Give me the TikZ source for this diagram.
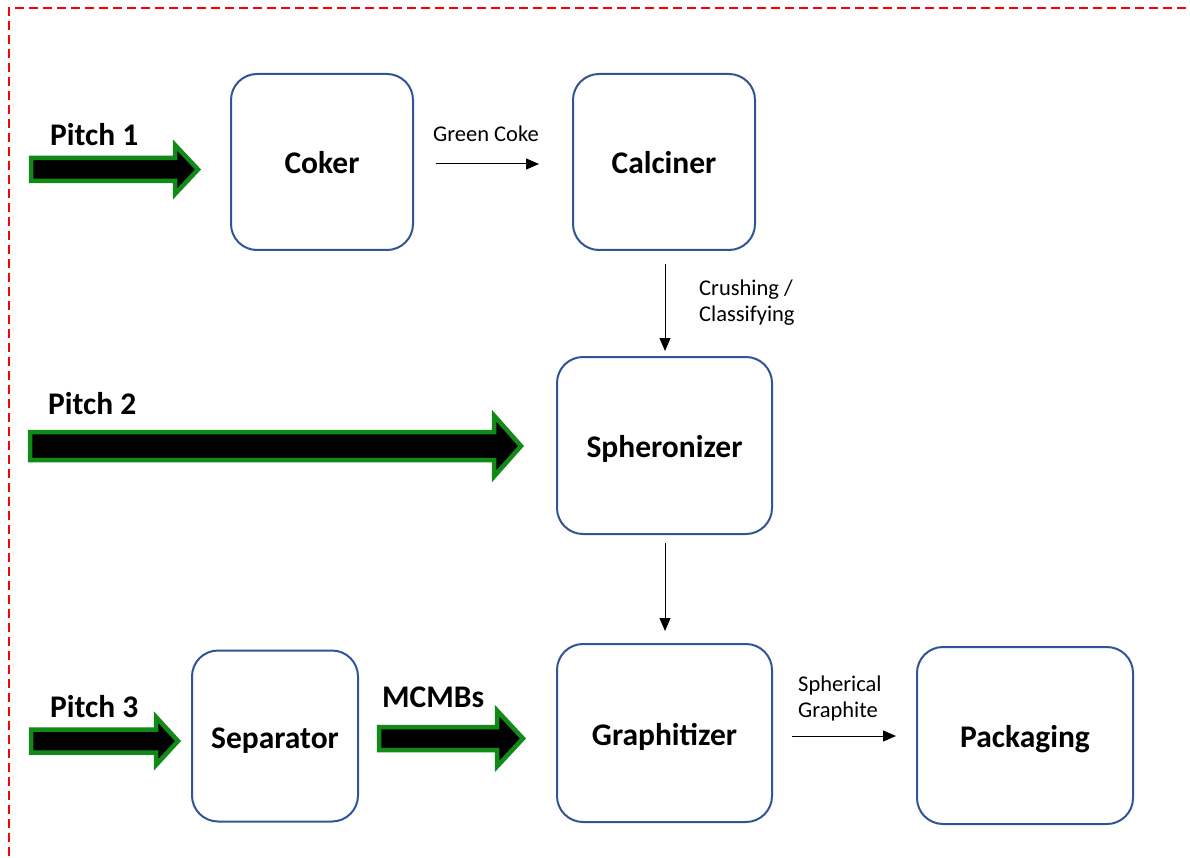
\documentclass[tikz,border=0pt]{standalone}
\usepackage{fontspec}
\setmainfont{Carlito}
\usetikzlibrary{arrows.meta}
\definecolor{boxblue}{RGB}{47,85,151}
\definecolor{fatgreen}{RGB}{18,138,24}
\tikzset{
  procbox/.style={draw=boxblue, line width=2pt, rounded corners=26pt, fill=white,
    inner sep=0pt, text height=24pt, text depth=0pt,
    font=\fontsize{31.5}{38}\selectfont\bfseries},
  fatarrow/.style={draw=fatgreen, fill=black, line width=4.5pt, line join=miter},
  biglabel/.style={inner sep=0pt, anchor=base west, font=\fontsize{31.5}{38}\selectfont\bfseries},
  smalllabel/.style={inner sep=0pt, align=left, anchor=base west, font=\fontsize{22.5}{26}\selectfont},
  flow/.style={draw=black, line width=1pt, -{Triangle[length=13pt,width=11pt]}},
  border/.style={draw=red, line width=2pt, dash pattern=on 9pt off 5pt}
}
\begin{document}
\begin{tikzpicture}[x=1pt,y=-1pt]
\useasboundingbox (0,0) rectangle (1190,858);
\draw[border] (8.5,870) -- (8.5,8.5) -- (1200,8.5);

% process boxes
\node[procbox, minimum width=182pt, minimum height=176pt] (coker) at (322,162) {Coker};
\node[procbox, minimum width=182pt, minimum height=176pt] (calciner) at (664,162) {Calciner};
\node[procbox, minimum width=215pt, minimum height=177pt] (spher) at (664.5,445.5) {Spheronizer};
\node[procbox, minimum width=215pt, minimum height=178pt] (graph) at (664.5,733) {Graphitizer};
\node[procbox, minimum width=166pt, minimum height=171pt] (sep) at (275,736) {Separator};
\node[procbox, minimum width=216pt, minimum height=177pt] (pack) at (1025,735.5) {Packaging};

% thin flows
\draw[flow, shorten <=22pt, shorten >=33pt] (coker.east |- 0,164) -- (calciner.west |- 0,164);
\draw[flow, shorten <=13pt, shorten >=5pt] (calciner.south -| 665,0) -- (spher.north -| 665,0);
\draw[flow, shorten <=8pt, shorten >=12pt] (spher.south -| 665,0) -- (graph.north -| 665,0);
\draw[flow, shorten <=19pt, shorten >=20pt] (graph.east |- 0,736) -- (pack.west |- 0,736);

% flow labels
\node[smalllabel] (lgc) at (433,142) {Green Coke};
\node[smalllabel] (lcc) at (699,321) {Crushing /\\Classifying};
\node[smalllabel] (lsg) at (798,717) {Spherical\\Graphite};

% fat arrows
\draw[fatarrow] (31,158) -- (175,158) -- (175,145) -- (198,169.5) -- (175,194) -- (175,181) -- (31,181) -- cycle;
\draw[fatarrow] (30,432) -- (494,432) -- (494,415.5) -- (521,446) -- (494,476.5) -- (494,460) -- (30,460) -- cycle;
\draw[fatarrow] (31,729.5) -- (156,729.5) -- (156,717) -- (178,741) -- (156,765) -- (156,752.5) -- (31,752.5) -- cycle;
\draw[fatarrow] (379,727) -- (497,727) -- (497,710.5) -- (523,738.5) -- (497,766.5) -- (497,750) -- (379,750) -- cycle;

% big labels
\node[biglabel] (p1) at (50,146) {Pitch 1};
\node[biglabel] (p2) at (48,414) {Pitch 2};
\node[biglabel] (p3) at (50,717) {Pitch 3};
\node[biglabel] (mc) at (382,707) {MCMBs};
\end{tikzpicture}
\end{document}
